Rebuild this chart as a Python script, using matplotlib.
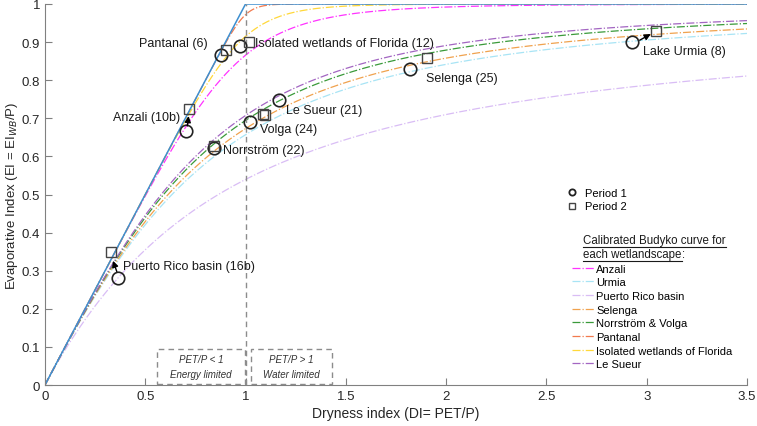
import matplotlib
matplotlib.use("Agg")
import matplotlib.pyplot as plt
import numpy as np
from matplotlib.lines import Line2D
from matplotlib.patches import Rectangle

plt.rcParams['font.family'] = ['Liberation Sans', 'DejaVu Sans']

# calibrated Budyko (Fu) curves, one parameter per wetlandscape
curve_names = ['Anzali', 'Urmia', 'Puerto Rico basin', 'Selenga', 'Norrström & Volga',
               'Pantanal', 'Isolated wetlands of Florida', 'Le Sueur']
curve_w = [5.5, 2.35, 1.83, 2.45, 2.6, 25.0, 8.5, 2.7]
curve_colors = ['#ff33ff', '#a8e4f5', '#d9bdf5', '#f0a24e', '#3a9a3a',
                '#f27a4e', '#ffd83a', '#a366c2']

# observed points (DI, EI) for period 1 and period 2
p1_x = [0.88, 0.974, 0.705, 1.165, 1.024, 0.841, 0.365, 1.82, 2.927]
p1_y = [0.867, 0.889, 0.667, 0.749, 0.690, 0.623, 0.282, 0.830, 0.901]
p2_x = [0.904, 1.015, 0.717, 1.087, 1.095, 0.843, 0.327, 1.903, 3.048]
p2_y = [0.880, 0.900, 0.725, 0.712, 0.708, 0.627, 0.350, 0.858, 0.930]

labels = ['Pantanal (6)', 'Isolated wetlands of Florida (12)', 'Anzali (10b)',
          'Le Sueur (21)', 'Volga (24)', 'Norrström (22)', 'Puerto Rico basin (16b)',
          'Selenga (25)', 'Lake Urmia (8)']
label_x = [0.813, 1.047, 0.673, 1.201, 1.072, 0.887, 0.389, 1.899, 2.98]
label_y = [0.898, 0.898, 0.703, 0.722, 0.672, 0.617, 0.312, 0.806, 0.877]
label_ha = ['right', 'left', 'right', 'left', 'left', 'left', 'left', 'left', 'left']

# arrows: period 1 -> period 2
arrows = [((0.71, 0.680), (0.716, 0.706)),
          ((0.358, 0.298), (0.339, 0.326)),
          ((2.965, 0.905), (3.02, 0.921))]

fig = plt.figure(figsize=(7.57, 4.27), dpi=100)
ax = fig.add_axes([0.0594, 0.096, 0.9274, 0.8923])

di = np.linspace(0.0001, 3.5, 700)
for w, c in zip(curve_w, curve_colors):
    ei = 1 + di - (1 + di ** w) ** (1 / w)
    ax.plot(di, ei, linestyle='-.', color=c, lw=0.9)

# energy / water limits
ax.plot([0, 1, 3.5], [0, 1, 1], color='#3d8fd0', lw=1.1)
ax.plot([1, 1], [0, 1], color='#8c8c8c', lw=1.0, ls=(0, (4, 3)))

ax.plot(p1_x, p1_y, 'o', mfc='none', mec='#222222', ms=9, mew=1.2, ls='none')
ax.plot(p2_x, p2_y, 's', mfc='none', mec='#444444', ms=7, mew=1.0, ls='none')

for t, x, y, ha in zip(labels, label_x, label_y, label_ha):
    ax.text(x, y, t, ha=ha, va='center', fontsize=9, color='#1a1a1a')

for (x0, y0), (x1, y1) in arrows:
    ax.annotate('', xy=(x1, y1), xytext=(x0, y0),
                arrowprops=dict(arrowstyle='-|>', color='black', lw=1.0,
                                mutation_scale=9, shrinkA=0, shrinkB=0))

# regime boxes
for (bx0, bx1), l1, l2 in [((0.558, 0.997), 'PET/P < 1', 'Energy limited'),
                           ((1.027, 1.43), 'PET/P > 1', 'Water limited')]:
    ax.add_patch(Rectangle((bx0, 0.003), bx1 - bx0, 0.092, fill=False,
                           ec='#8c8c8c', lw=1.0, ls=(0, (4, 3))))
    cx = (bx0 + bx1) / 2
    ax.text(cx, 0.068, l1, ha='center', va='center', fontsize=7, style='italic', color='#333333')
    ax.text(cx, 0.030, l2, ha='center', va='center', fontsize=7, style='italic', color='#333333')

ax.set_xlim(0, 3.5)
ax.set_ylim(0, 1)
ax.set_xticks(np.arange(0, 3.51, 0.5))
ax.set_xticklabels(['0', '0.5', '1', '1.5', '2', '2.5', '3', '3.5'])
ax.set_yticks(np.arange(0, 1.01, 0.1))
ax.set_yticklabels(['0', '0.1', '0.2', '0.3', '0.4', '0.5', '0.6', '0.7', '0.8', '0.9', '1'])
ax.tick_params(direction='in', length=5, color='#808080', labelsize=9.5, labelcolor='#262626')
for s in ['top', 'right']:
    ax.spines[s].set_visible(False)
for s in ['left', 'bottom']:
    ax.spines[s].set_color('#808080')
ax.set_xlabel('Dryness index (DI= PET/P)', fontsize=10, color='#262626', labelpad=3)
ax.set_ylabel('Evaporative Index (EI = EI$_{WB}$/P)', fontsize=9.5, color='#262626', labelpad=1)

# period legend
ph = [Line2D([], [], marker='o', mfc='none', mec='#222222', ms=4.5, mew=1.3, ls='none'),
      Line2D([], [], marker='s', mfc='none', mec='#444444', ms=4, mew=1.0, ls='none')]
leg1 = ax.legend(ph, ['Period 1', 'Period 2'], loc='upper left', bbox_to_anchor=(0.737, 0.53),
                 frameon=False, fontsize=8, handlelength=1.0, handletextpad=0.6,
                 labelspacing=0.35, borderaxespad=0)
ax.add_artist(leg1)

# curve legend
ch = [Line2D([], [], color=c, ls='-.', lw=0.9) for c in curve_colors]
ax.legend(ch, curve_names, loc='upper left', bbox_to_anchor=(0.744, 0.33),
          frameon=False, fontsize=8, handlelength=2.1, handletextpad=0.1,
          labelspacing=0.33, borderaxespad=0)

t1 = ax.text(0.767, 0.374, 'Calibrated Budyko curve for', transform=ax.transAxes,
             fontsize=8.3, ha='left', va='baseline', color='#1a1a1a')
t2 = ax.text(0.767, 0.336, 'each wetlandscape', transform=ax.transAxes,
             fontsize=8.3, ha='left', va='baseline', color='#1a1a1a')
fig.canvas.draw()
r = fig.canvas.get_renderer()
for t in (t1, t2):
    bb = t.get_window_extent(r)
    fig.add_artist(Line2D([bb.x0 / fig.bbox.width, bb.x1 / fig.bbox.width],
                          [(bb.y0 - 1.5) / fig.bbox.height] * 2,
                          color='#1a1a1a', lw=0.8, transform=fig.transFigure))
bb = t2.get_window_extent(r)
ax.text(bb.x1 / fig.bbox.width, bb.y0 / fig.bbox.height, ':', transform=fig.transFigure,
        fontsize=8.3, va='bottom', ha='left', color='#1a1a1a')

fig.savefig('out.png', dpi=100)
